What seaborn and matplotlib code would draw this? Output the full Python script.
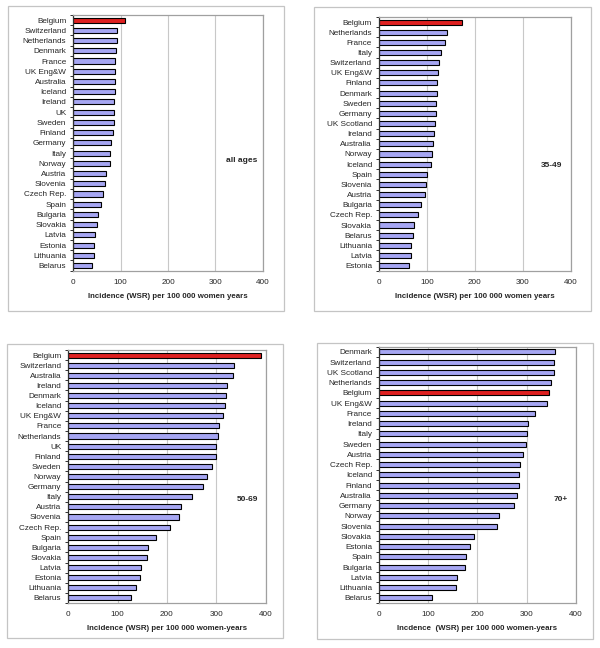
import pandas as pd
import matplotlib
matplotlib.use("Agg")
import matplotlib.pyplot as plt
import seaborn as sns
from matplotlib.patches import Rectangle

# all ages
countries_all = ["Belgium", "Switzerland", "Netherlands", "Denmark", "France", "UK Eng&W",
                 "Australia", "Iceland", "Ireland", "UK", "Sweden", "Finland", "Germany",
                 "Italy", "Norway", "Austria", "Slovenia", "Czech Rep.", "Spain", "Bulgaria",
                 "Slovakia", "Latvia", "Estonia", "Lithuania", "Belarus"]
values_all = [110, 93, 91.5, 89.5, 89, 89, 88, 87.5, 87, 87, 85, 83.5, 79, 78.5, 78.5,
              69.5, 67.5, 62.5, 57.5, 52.5, 49.5, 45.5, 44.5, 43.5, 40.5]

# 35-49
countries_35 = ["Belgium", "Netherlands", "France", "Italy", "Switzerland", "UK Eng&W",
                "Finland", "Denmark", "Sweden", "Germany", "UK Scotland", "Ireland",
                "Australia", "Norway", "Iceland", "Spain", "Slovenia", "Austria", "Bulgaria",
                "Czech Rep.", "Slovakia", "Belarus", "Lithuania", "Latvia", "Estonia"]
values_35 = [172, 141, 138, 128.5, 125.5, 122, 121.5, 120, 119.5, 118, 116, 115, 112, 110,
             107.5, 100.5, 97, 96.5, 87, 81, 73.5, 71, 67.5, 66.5, 62.5]

# 50-69
countries_50 = ["Belgium", "Switzerland", "Australia", "Ireland", "Denmark", "Iceland",
                "UK Eng&W", "France", "Netherlands", "UK", "Finland", "Sweden", "Norway",
                "Germany", "Italy", "Austria", "Slovenia", "Czech Rep.", "Spain", "Bulgaria",
                "Slovakia", "Latvia", "Estonia", "Lithuania", "Belarus"]
values_50 = [391, 335, 334, 321, 320, 318, 313.5, 305, 304, 300, 298.5, 292, 281, 273.5,
             250, 228, 223.5, 207, 178, 161, 159.5, 148, 144.5, 136.5, 127]

# 70+
countries_70 = ["Denmark", "Switzerland", "UK Scotland", "Netherlands", "Belgium", "UK Eng&W",
                "France", "Ireland", "Italy", "Sweden", "Austria", "Czech Rep.", "Iceland",
                "Finland", "Australia", "Germany", "Norway", "Slovenia", "Slovakia", "Estonia",
                "Spain", "Bulgaria", "Latvia", "Lithuania", "Belarus"]
values_70 = [358.5, 356.5, 356.5, 349, 345, 342, 317, 302, 300, 298, 292, 287, 284, 284,
             281, 274, 244, 239, 194, 186, 177.5, 175.5, 158.5, 156.5, 108.5]

xlabels = ["Incidence (WSR) per 100 000 women years",
           "Incidence (WSR) per 100 000 women years",
           "Incidence (WSR) per 100 000 women-years",
           "Incdence  (WSR) per 100 000 women-years"]
panel_titles = ["all ages", "35-49", "50-69", "70+"]

sns.set_style("white")
plt.rcParams["font.family"] = ["Liberation Sans", "DejaVu Sans"]

W, H = 600, 648
fig = plt.figure(figsize=(6, 6.48), dpi=100)


def px_axes(x0, y0, x1, y1):
    return fig.add_axes([x0 / W, 1 - y1 / H, (x1 - x0) / W, (y1 - y0) / H])


def px_box(x0, y0, x1, y1):
    fig.add_artist(Rectangle((x0 / W, 1 - y1 / H), (x1 - x0) / W, (y1 - y0) / H,
                             transform=fig.transFigure, fill=False,
                             edgecolor="#c4c4c4", linewidth=0.9))


panels = [
    (countries_all, values_all, (73.3, 15, 262.7, 270.7), (8, 6, 284, 311), (355, 13.7)),
    (countries_35, values_35, (379, 17, 571, 270.7), (314, 7, 591, 311), (360, 14.1)),
    (countries_50, values_50, (68.3, 350, 265.7, 603), (7, 344, 283, 638), (364, 14.3)),
    (countries_70, values_70, (379, 346.7, 575.7, 603), (317, 343, 593, 639), (370, 14.4)),
]

for i, (names, vals, area, box, txt) in enumerate(panels):
    px_box(*box)
    ax = px_axes(*area)
    df = pd.DataFrame({"country": names, "value": vals})
    df["hl"] = ["Belgium" if c == "Belgium" else "other" for c in names]
    sns.barplot(data=df, x="value", y="country", hue="hl", order=names,
                palette={"Belgium": "#ff0000", "other": "#9999ff"}, dodge=False,
                width=0.5, edgecolor="black", linewidth=0.8, legend=False, ax=ax)
    ax.set_xlim(0, 400)
    ax.set_ylim(len(names) - 0.5, -0.5)
    ax.set_xticks([0, 100, 200, 300, 400])
    ax.xaxis.grid(True, color="#c8c8c8", linewidth=0.8)
    ax.set_axisbelow(True)
    for s in ["top", "right", "bottom"]:
        ax.spines[s].set_color("#a0a0a0")
        ax.spines[s].set_linewidth(0.9)
    ax.spines["left"].set_color("#303030")
    ax.spines["left"].set_linewidth(0.9)
    ax.set_yticks([k + 0.5 for k in range(-1, len(names))], minor=True)
    ax.tick_params(axis="y", which="minor", length=2.5, width=0.7, color="#303030",
                   direction="out", left=True)
    ax.tick_params(axis="y", which="major", length=0, pad=5, labelsize=5.9)
    ax.tick_params(axis="x", length=0, pad=6, labelsize=5.9)
    ax.set_ylabel("")
    ax.set_xlabel(xlabels[i], fontsize=5.7, fontweight="bold", labelpad=5)
    ax.text(txt[0], txt[1], panel_titles[i], fontsize=6, fontweight="bold",
            ha="center", va="center")

fig.savefig("out.png", dpi=100)
